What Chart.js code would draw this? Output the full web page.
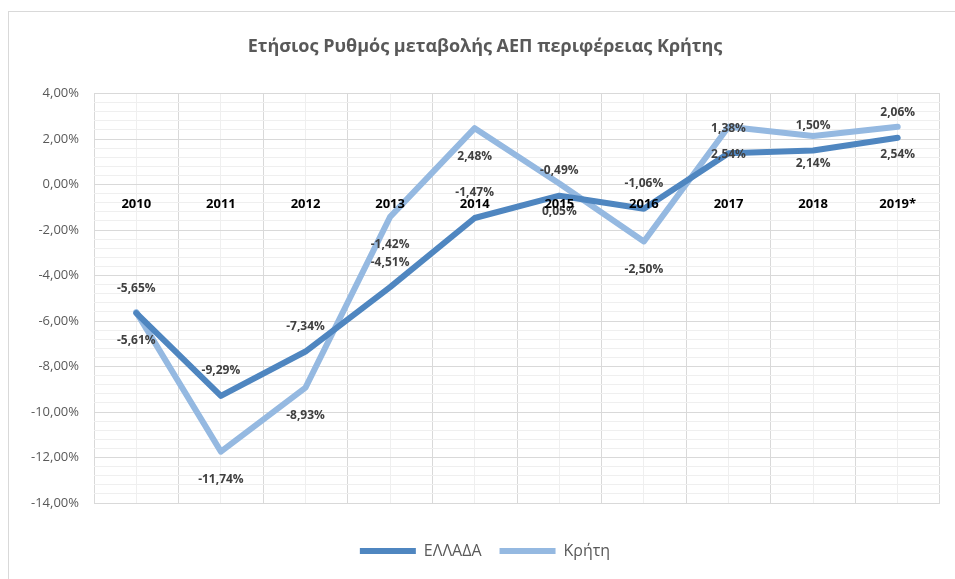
<!DOCTYPE html>
<html>
<head>
<meta charset="utf-8">
<script src="https://cdn.jsdelivr.net/npm/chart.js@4.4.1/dist/chart.umd.min.js"></script>
<style>
  html, body { margin: 0; padding: 0; background: #fff; }
  #wrap { position: relative; width: 955px; height: 579px; overflow: hidden; }
  #frame { position: absolute; left: 8px; top: 11px; width: 960px; height: 600px; border: 1px solid #d9d9d9; box-sizing: border-box; }
  canvas { position: absolute; left: 0; top: 0; }
</style>
</head>
<body>
<div id="wrap">
  <div id="frame"></div>
  <canvas id="growthChart" width="955" height="579"></canvas>
</div>
<script>
// dados
const years = ["2010", "2011", "2012", "2013", "2014", "2015", "2016", "2017", "2018", "2019*"];
const ellada = [-5.65, -9.29, -7.34, -4.51, -1.47, -0.49, -1.06, 1.38, 1.50, 2.06];
const kriti = [-5.61, -11.74, -8.93, -1.42, 2.48, 0.05, -2.50, 2.54, 2.14, 2.54];
const yMin = -14;
const yMax = 4;

const DARK = "#4f86c0";
const LIGHT = "#95b9e1";
const FONT = "'Open Sans', 'Noto Sans', sans-serif";

function pct(v) {
  if (Math.abs(v) < 1e-9) v = 0;
  return v.toFixed(2).replace(".", ",") + "%";
}
function isMajor(v) {
  return Math.abs(v / 2 - Math.round(v / 2)) < 1e-6;
}

// etiquetas de valores sobre/abaixo dos pontos
const valueLabels = {
  id: "valueLabels",
  afterDatasetsDraw(chart) {
    const c = chart.ctx;
    c.save();
    c.font = "bold 12px " + FONT;
    c.fillStyle = "#404040";
    c.textAlign = "center";
    c.textBaseline = "middle";
    chart.data.datasets.forEach((ds, i) => {
      const meta = chart.getDatasetMeta(i);
      const off = i === 0 ? -25 : 28;
      meta.data.forEach((pt, j) => {
        c.fillText(pct(ds.data[j]), pt.x, pt.y + off);
      });
    });
    c.restore();
  },
};

new Chart(document.getElementById("growthChart"), {
  type: "line",
  data: {
    labels: years,
    datasets: [
      {
        label: "ΕΛΛΑΔΑ",
        data: ellada,
        borderColor: DARK,
        backgroundColor: DARK,
        borderWidth: 6,
        borderCapStyle: "round",
        borderJoinStyle: "round",
        pointRadius: 0,
        tension: 0,
      },
      {
        label: "Κρήτη",
        data: kriti,
        borderColor: LIGHT,
        backgroundColor: LIGHT,
        borderWidth: 6,
        borderCapStyle: "round",
        borderJoinStyle: "round",
        pointRadius: 0,
        tension: 0,
      },
    ],
  },
  options: {
    responsive: false,
    animation: false,
    layout: { padding: { left: 30, right: 15, top: 0, bottom: 10 } },
    plugins: {
      title: {
        display: true,
        text: "Ετήσιος Ρυθμός μεταβολής ΑΕΠ περιφέρειας Κρήτης",
        color: "#595959",
        font: { family: FONT, size: 18, weight: "bold" },
        padding: { top: 36, bottom: 36 },
      },
      legend: {
        position: "bottom",
        labels: {
          usePointStyle: true,
          pointStyle: "line",
          pointStyleWidth: 56,
          color: "#595959",
          font: { family: FONT, size: 16 },
          padding: 18,
        },
      },
      tooltip: { enabled: false },
    },
    scales: {
      xMinor: {
        type: "category",
        labels: years,
        position: "bottom",
        offset: true,
        grid: { offset: false, color: "#efefef", lineWidth: 1, drawTicks: false },
        border: { display: false },
        ticks: { display: false },
        afterFit: (s) => { s.height = 22; },
      },
      x: {
        type: "category",
        position: { y: 0 },
        offset: true,
        grid: { offset: true, color: "#d9d9d9", lineWidth: 1, drawTicks: false },
        border: { display: false },
        ticks: {
          z: 1,
          color: "#000",
          font: { family: FONT, size: 13, weight: "bold" },
          padding: 12,
          maxRotation: 0,
          autoSkip: false,
        },
      },
      y: {
        min: yMin,
        max: yMax,
        position: "left",
        grid: {
          drawTicks: false,
          color: (ctx) => (isMajor(ctx.tick.value) ? "#d9d9d9" : "#efefef"),
        },
        border: { display: false },
        ticks: {
          stepSize: 0.4,
          autoSkip: false,
          padding: 15,
          color: "#595959",
          font: { family: FONT, size: 13 },
          callback: (v) => (isMajor(v) ? pct(v) : ""),
        },
        afterFit: (s) => { s.width = 64; },
      },
    },
  },
  plugins: [valueLabels],
});
</script>
</body>
</html>
